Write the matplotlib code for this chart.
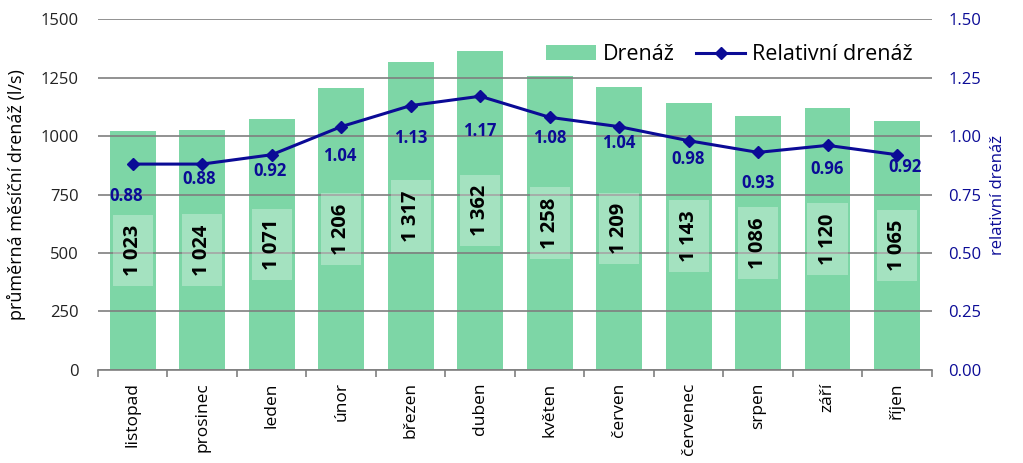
import matplotlib.pyplot as plt
import numpy as np

months = ["listopad", "prosinec", "leden", "únor", "březen", "duben",
          "květen", "červen", "červenec", "srpen", "září", "říjen"]
drenaz = [1023, 1024, 1071, 1206, 1317, 1362, 1258, 1209, 1143, 1086, 1120, 1065]
rel_drenaz = [0.88, 0.88, 0.92, 1.04, 1.13, 1.17, 1.08, 1.04, 0.98, 0.93, 0.96, 0.92]

# label offsets (points) below each marker, as placed in the original
lab_dx = [-5, -2, -1, -1, 0, 0, 0, 0, 0, 0, 0, 6]
lab_dy = [-23, -11, -12, -21, -23, -25, -15, -12, -13, -22, -17, -9]

plt.rcParams["font.family"] = ["Open Sans", "DejaVu Sans"]
navy = "#0b0b96"
green = "#7dd6a6"

fig = plt.figure(figsize=(10.23, 4.63), dpi=100)
ax = fig.add_axes([0.0958, 0.2009, 0.815, 0.758])
x = np.arange(len(months))

bars = ax.bar(x, drenaz, width=0.66, color=green, zorder=1, label="Drenáž")
ax.set_ylim(0, 1500)
ax.set_xlim(-0.5, len(months) - 0.5)
ax.set_yticks(np.arange(0, 1501, 250))
ax.yaxis.grid(True, color="#7f7f7f", lw=1.2, zorder=2)
ax.set_axisbelow(False)
for s in ["top", "left", "right"]:
    ax.spines[s].set_visible(False)
ax.spines["bottom"].set_color("#7f7f7f")
ax.spines["bottom"].set_linewidth(1.2)
ax.spines["bottom"].set_zorder(3)
ax.tick_params(axis="y", length=0, labelsize=12, colors="#222222", pad=14)
ax.set_xticks(x)
ax.set_xticklabels(months, rotation=90, fontsize=12.5)
ax.set_xticks(np.arange(-0.5, len(months)), minor=True)
ax.tick_params(axis="x", which="major", length=0, pad=9)
ax.tick_params(axis="x", which="minor", length=5, color="#7f7f7f", width=1.2)
ax.set_ylabel("průměrná měsíční drenáž (l/s)", fontsize=13, labelpad=10)

for xi, v in zip(x, drenaz):
    ax.text(xi, v / 2, f"{v:,}".replace(",", " "), rotation=90, ha="center",
            va="center", fontsize=14.5, fontweight="bold", color="black", zorder=4,
            bbox=dict(boxstyle="square,pad=0.5", fc="white", ec="none", alpha=0.3))

ax2 = ax.twinx()
line, = ax2.plot(x, rel_drenaz, color=navy, lw=2.2, marker="D", markersize=6,
                 zorder=5, label="Relativní drenáž")
ax2.set_ylim(0, 1.5)
ax2.set_yticks(np.arange(0, 1.51, 0.25))
ax2.set_yticklabels([f"{t:.2f}" for t in np.arange(0, 1.51, 0.25)])
for s in ["top", "left", "right", "bottom"]:
    ax2.spines[s].set_visible(False)
ax2.tick_params(axis="y", length=0, labelsize=12, colors=navy, pad=12)
ax2.set_ylabel("relativní drenáž", fontsize=12, color=navy, labelpad=6)

for xi, v, dx, dy in zip(x, rel_drenaz, lab_dx, lab_dy):
    ax2.annotate(f"{v:.2f}", (xi, v), xytext=(dx, dy), textcoords="offset points",
                 ha="center", va="center", fontsize=12, fontweight="bold",
                 color=navy, zorder=6)

fig.legend(handles=[bars, line], loc="center", bbox_to_anchor=(0.713, 0.882),
           ncol=2, frameon=False, fontsize=15.5, handlelength=2.3,
           columnspacing=1.0, handletextpad=0.3)

fig.savefig("out.png", dpi=100)
